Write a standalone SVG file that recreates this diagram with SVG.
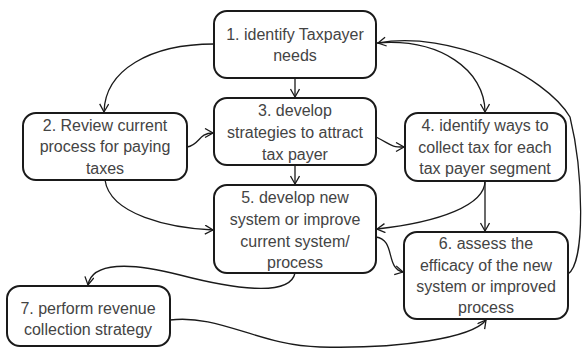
<svg xmlns="http://www.w3.org/2000/svg" width="582" height="351" viewBox="0 0 582 351">
<style>
.box{fill:#fff;stroke:#1a1a1a;stroke-width:2}
.t{font-family:"Liberation Sans",Arial,sans-serif;font-size:16px;fill:#444;text-anchor:middle}
.c{fill:none;stroke:#1a1a1a;stroke-width:1.3;marker-end:url(#arr)}
</style>
<defs>
<marker id="arr" markerWidth="12" markerHeight="12" refX="9" refY="5" orient="auto" markerUnits="userSpaceOnUse">
<path d="M1,0.5 L9,5 L1,9.5" fill="none" stroke="#1a1a1a" stroke-width="1.3"/>
</marker>
</defs>
<g id="connectors">
<path class="c" d="M214,44 C150,44 105,70 104,112"/>
<path class="c" d="M295,78 L295,97"/>
<path class="c" d="M377,43 C440,38 485,70 485,112"/>
<path class="c" d="M568,274 C586,262 583,170 570,117 C545,75 450,30 378,43"/>
<path class="c" d="M187,147 C200,145 198,133 213,133"/>
<path class="c" d="M105,180 C110,215 170,228 213,230"/>
<path class="c" d="M376,137 C392,145 390,147 404,147"/>
<path class="c" d="M295,165 L295,184"/>
<path class="c" d="M485,181 C485,205 440,222 377,229"/>
<path class="c" d="M485,181 L485,231"/>
<path class="c" d="M376,237 C396,240 385,268 403,272"/>
<path class="c" d="M295,273 C290,298 230,288 180,275 C130,262 92,262 88,285"/>
<path class="c" d="M170,320 C220,314 260,346 320,347 C400,349 472,338 486,320"/>
</g>
<g id="n1"><rect class="box" x="214" y="11" width="162" height="67" rx="13"/>
<text class="t" x="295" y="40">1. identify Taxpayer</text><text class="t" x="295" y="61">needs</text></g>
<g id="n2"><rect class="box" x="23" y="113" width="164" height="67" rx="13"/>
<text class="t" x="105" y="131">2. Review current</text><text class="t" x="105" y="152">process for paying</text><text class="t" x="105" y="174">taxes</text></g>
<g id="n3"><rect class="box" x="214" y="98" width="162" height="67" rx="13"/>
<text class="t" x="295" y="116">3. develop</text><text class="t" x="295" y="138">strategies to attract</text><text class="t" x="295" y="160">tax payer</text></g>
<g id="n4"><rect class="box" x="405" y="113" width="161" height="68" rx="13"/>
<text class="t" x="485" y="131">4. identify ways to</text><text class="t" x="485" y="153">collect tax for each</text><text class="t" x="485" y="174">tax payer segment</text></g>
<g id="n5"><rect class="box" x="214" y="185" width="162" height="88" rx="13"/>
<text class="t" x="295" y="203">5. develop new</text><text class="t" x="295" y="225">system or improve</text><text class="t" x="295" y="247">current system/</text><text class="t" x="295" y="268">process</text></g>
<g id="n6"><rect class="box" x="404" y="232" width="164" height="87" rx="13"/>
<text class="t" x="486" y="249">6. assess the</text><text class="t" x="486" y="271">efficacy of the new</text><text class="t" x="486" y="292">system or improved</text><text class="t" x="486" y="313">process</text></g>
<g id="n7"><rect class="box" x="7" y="286" width="163" height="60" rx="13"/>
<text class="t" x="88" y="314">7. perform revenue</text><text class="t" x="88" y="335">collection strategy</text></g>
</svg>
